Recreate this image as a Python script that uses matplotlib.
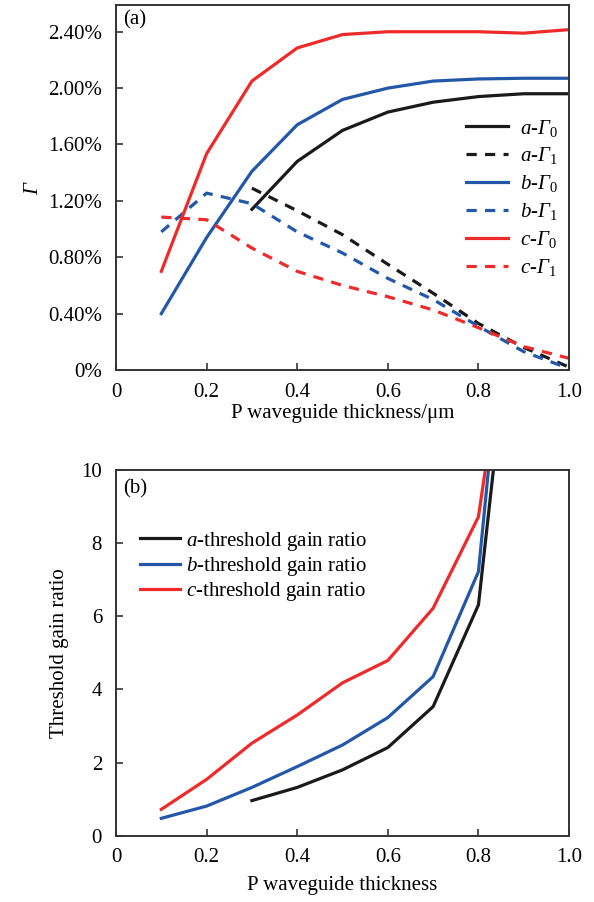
import matplotlib
matplotlib.use("Agg")
import matplotlib.pyplot as plt

# ---------------------------------
# Data
# ---------------------------------
x_all = [0.1, 0.2, 0.3, 0.4, 0.5, 0.6, 0.7, 0.8, 0.9, 1.0]
x_a = [0.3, 0.4, 0.5, 0.6, 0.7, 0.8, 0.9, 1.0]

# confinement factors, in %
a_g0 = [1.14, 1.48, 1.70, 1.83, 1.90, 1.94, 1.96, 1.96]
a_g1 = [1.29, 1.13, 0.96, 0.75, 0.545, 0.33, 0.16, 0.02]
b_g0 = [0.40, 0.94, 1.41, 1.74, 1.92, 2.00, 2.05, 2.065, 2.07, 2.07]
b_g1 = [0.98, 1.255, 1.18, 0.98, 0.83, 0.65, 0.50, 0.31, 0.13, 0.01]
c_g0 = [0.70, 1.535, 2.05, 2.285, 2.38, 2.40, 2.40, 2.40, 2.39, 2.415]
c_g1 = [1.085, 1.066, 0.865, 0.70, 0.60, 0.52, 0.426, 0.30, 0.166, 0.083]

# threshold gain ratios (last point is off the top of the axes)
x_b = [0.1, 0.2, 0.3, 0.4, 0.5, 0.6, 0.7, 0.8, 0.9]
a_ratio = [0.96, 1.32, 1.80, 2.41, 3.53, 6.31, 17.5]
b_ratio = [0.475, 0.81, 1.32, 1.89, 2.48, 3.23, 4.35, 7.22, 19.8]
c_ratio = [0.72, 1.54, 2.53, 3.30, 4.18, 4.79, 6.22, 8.72, 17.2]

x_ticks = [0, 0.2, 0.4, 0.6, 0.8, 1.0]
x_ticklabels = ["0", "0.2", "0.4", "0.6", "0.8", "1.0"]
g_ticks = [0, 0.4, 0.8, 1.2, 1.6, 2.0, 2.4]
g_ticklabels = ["0%", "0.40%", "0.80%", "1.20%", "1.60%", "2.00%", "2.40%"]
r_ticks = [0, 2, 4, 6, 8, 10]

# ---------------------------------
# Style
# ---------------------------------
plt.rcParams["font.family"] = ["Liberation Serif", "DejaVu Serif"]
# mathtext keeps capital Greek in the "rm" slot, so rm is the italic face here
# and upright digits go through \mathsf
plt.rcParams["mathtext.fontset"] = "custom"
plt.rcParams["mathtext.rm"] = "Liberation Serif:italic"
plt.rcParams["mathtext.it"] = "Liberation Serif:italic"
plt.rcParams["mathtext.sf"] = "Liberation Serif"
plt.rcParams["font.size"] = 15

BLACK = "#1a1a1a"
BLUE = "#2357a8"
RED = "#ee2a2a"
SPINE = "#333333"
LW = 2.3
DASH = (3.2, 2.6)

fig = plt.figure(figsize=(5.94, 9.02), dpi=100)
ax1 = fig.add_axes([0.1953, 0.5898, 0.7627, 0.4047])
ax2 = fig.add_axes([0.1953, 0.0735, 0.7627, 0.4055])


def style_axes(ax):
    for s in ax.spines.values():
        s.set_color(SPINE)
        s.set_linewidth(1.4)
    ax.tick_params(direction="in", length=5, width=1.2, color=SPINE,
                   top=False, right=False, labelsize=15)
    ax.tick_params(axis="x", pad=9)
    ax.tick_params(axis="y", pad=10)


def glabel(letter, idx):
    return r"$%s$-$\Gamma_{\mathsf{%d}}$" % (letter, idx)


# ---------------------------------
# (a) confinement factor
# ---------------------------------
ax1.plot(x_a, a_g0, color=BLACK, lw=LW, label=glabel("a", 0))
ax1.plot(x_a, a_g1, color=BLACK, lw=LW, dashes=DASH, label=glabel("a", 1))
ax1.plot(x_all, b_g0, color=BLUE, lw=LW, label=glabel("b", 0))
ax1.plot(x_all, b_g1, color=BLUE, lw=LW, dashes=DASH, label=glabel("b", 1))
ax1.plot(x_all, c_g0, color=RED, lw=LW, label=glabel("c", 0))
ax1.plot(x_all, c_g1, color=RED, lw=LW, dashes=DASH, label=glabel("c", 1))

ax1.set_xlim(0, 1.0)
ax1.set_ylim(0, 2.59)
ax1.set_xticks(x_ticks)
ax1.set_xticklabels(x_ticklabels)
ax1.set_yticks(g_ticks)
ax1.set_yticklabels(g_ticklabels)
ax1.set_xlabel("P waveguide thickness/\u03bcm", labelpad=2)
ax1.set_ylabel(r"$\Gamma$", labelpad=4)
style_axes(ax1)
ax1.text(0.015, 0.985, "(a)", transform=ax1.transAxes, ha="left", va="top", fontsize=15)
ax1.legend(loc="upper left", bbox_to_anchor=(0.75, 0.72), frameon=False,
           handlelength=2.0, handletextpad=0.6, labelspacing=0.33,
           borderpad=0, fontsize=15)

# ---------------------------------
# (b) threshold gain ratio
# ---------------------------------
ax2.plot(x_b[2:], a_ratio, color=BLACK, lw=LW, label=r"$a$-threshold gain ratio")
ax2.plot(x_b, b_ratio, color=BLUE, lw=LW, label=r"$b$-threshold gain ratio")
ax2.plot(x_b, c_ratio, color=RED, lw=LW, label=r"$c$-threshold gain ratio")

ax2.set_xlim(0, 1.0)
ax2.set_ylim(0, 10)
ax2.set_xticks(x_ticks)
ax2.set_xticklabels(x_ticklabels)
ax2.set_yticks(r_ticks)
ax2.set_xlabel("P waveguide thickness", labelpad=6)
ax2.set_ylabel("Threshold gain ratio", labelpad=9)
style_axes(ax2)
ax2.text(0.015, 0.975, "(b)", transform=ax2.transAxes, ha="left", va="top", fontsize=15)
ax2.legend(loc="upper left", bbox_to_anchor=(0.03, 0.865), frameon=False,
           handlelength=1.9, handletextpad=0.3, labelspacing=0.1,
           borderpad=0, fontsize=15)

fig.savefig("out.png", dpi=100)
